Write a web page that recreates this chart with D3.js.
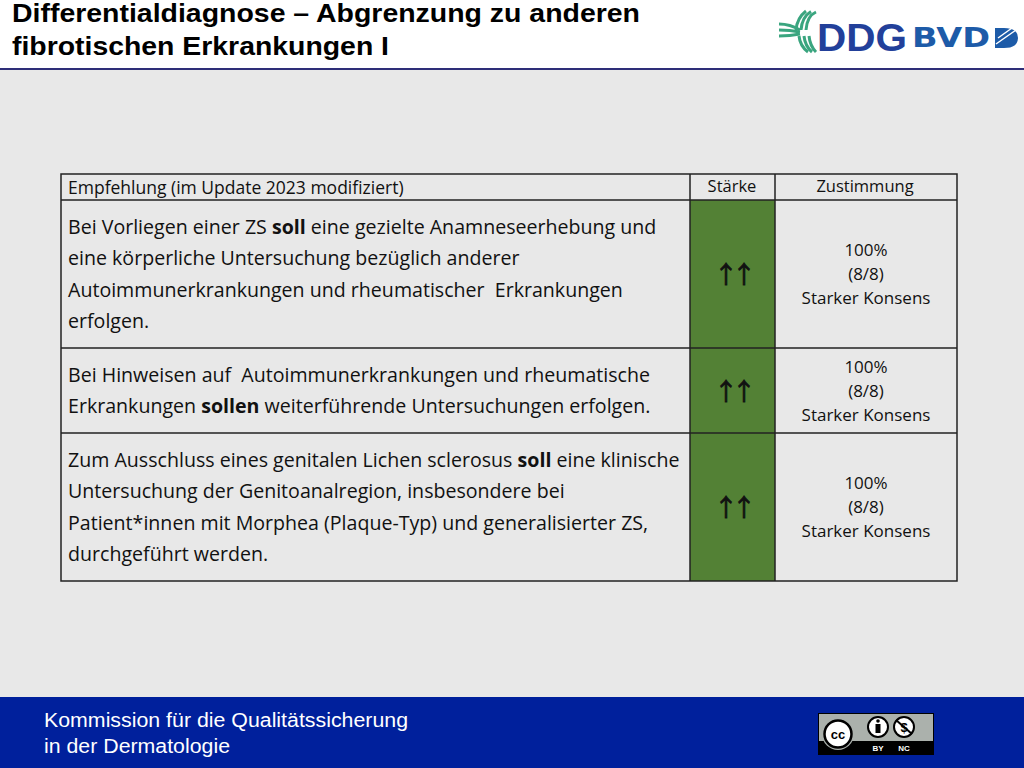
<!DOCTYPE html>
<html><head><meta charset="utf-8">
<script src="https://cdn.jsdelivr.net/npm/d3@7"></script>
<style>body{margin:0;background:#fff}svg{display:block}</style>
</head><body>
<svg id="c" width="1024" height="768"></svg>
<script>
const titleLines = ["Differentialdiagnose – Abgrenzung zu anderen", "fibrotischen Erkrankungen I"];
const columns = ["Empfehlung (im Update 2023 modifiziert)", "Stärke", "Zustimmung"];
// each recommendation: lines of [text, bold] segments
const recommendations = [
  [[["Bei Vorliegen einer ZS ",0],["soll",1],[" eine gezielte Anamneseerhebung und",0]],
   [["eine körperliche Untersuchung bezüglich anderer",0]],
   [["Autoimmunerkrankungen und rheumatischer  Erkrankungen",0]],
   [["erfolgen.",0]]],
  [[["Bei Hinweisen auf  Autoimmunerkrankungen und rheumatische",0]],
   [["Erkrankungen ",0],["sollen",1],[" weiterführende Untersuchungen erfolgen.",0]]],
  [[["Zum Ausschluss eines genitalen Lichen sclerosus ",0],["soll",1],[" eine klinische",0]],
   [["Untersuchung der Genitoanalregion, insbesondere bei",0]],
   [["Patient*innen mit Morphea (Plaque-Typ) und generalisierter ZS,",0]],
   [["durchgeführt werden.",0]]]
];
const strengths = ["↑↑", "↑↑", "↑↑"];
const agreementPct = ["100%", "100%", "100%"];
const agreementVotes = ["(8/8)", "(8/8)", "(8/8)"];
const agreementLabel = ["Starker Konsens", "Starker Konsens", "Starker Konsens"];
const footerLines = ["Kommission für die Qualitätssicherung", "in der Dermatologie"];

const svg = d3.select("#c");
// background
svg.append("rect").attr("x",0).attr("y",0).attr("width",1024).attr("height",768).attr("fill","#e8e8e8");
svg.append("rect").attr("x",0).attr("y",0).attr("width",1024).attr("height",68).attr("fill","#ffffff");
svg.append("rect").attr("x",0).attr("y",68).attr("width",1024).attr("height",2).attr("fill","#2e2e78");
svg.append("rect").attr("x",0).attr("y",697).attr("width",1024).attr("height",71).attr("fill","#00209c");

// title
const titleW = [628, 377];
svg.selectAll("text.title").data(titleLines).join("text").attr("class","title")
  .attr("x",12).attr("y",(d,i)=>22+i*33)
  .attr("font-family","Liberation Sans, Arial, sans-serif").attr("font-weight","bold")
  .attr("font-size",25).attr("fill","#000")
  .attr("textLength",(d,i)=>titleW[i]).attr("lengthAdjust","spacingAndGlyphs")
  .text(d=>d);

// logo DDG
const logo = svg.append("g").attr("fill","none").attr("stroke","#3aa57f").attr("stroke-width",3);
for (let k=0;k<3;k++){
  logo.append("path").attr("d",`M${796+k*5},${30} Q${797+k*5},${18-k*1} ${806+k*5},${11+k*0.5}`);
  logo.append("path").attr("d",`M${779},${24+k*6} Q${790},${24+k*6} ${800},${30+k*2}`);
  logo.append("path").attr("d",`M${799+k*5},${36} Q${800+k*5},${46} ${808+k*4},${52}`);
}
logo.append("text").attr("x",817).attr("y",51).attr("font-family","Liberation Sans, Arial").attr("font-weight","bold")
  .attr("font-size",38).attr("fill","#22409a").attr("stroke","none").attr("textLength",90).attr("lengthAdjust","spacingAndGlyphs").text("DDG");
logo.append("text").attr("x",912).attr("y",47).attr("font-family","DejaVu Sans, sans-serif").attr("font-weight","bold")
  .attr("font-size",26).attr("fill","#1d5ba8").attr("stroke","none").attr("textLength",78).attr("lengthAdjust","spacingAndGlyphs").text("BVD");
logo.append("path").attr("d","M995,28 L1004,28 Q1018,28 1018,38 Q1018,48 1004,48 L995,48 Z").attr("fill","#1d5ba8").attr("stroke","none");
logo.append("path").attr("d","M996,44 L1016,30 M998,38 L1012,28").attr("stroke","#fff").attr("stroke-width",1.5);

// table
const colEdges = [61, 690, 775, 957];
const rowEdges = [174, 200, 348, 433, 581];
const tableFont = "'Open Sans', Lato, sans-serif";
const tbl = svg.append("g");

tbl.selectAll("rect.green").data(recommendations).join("rect").attr("class","green")
  .attr("x",colEdges[1]).attr("y",(d,i)=>rowEdges[i+1]).attr("width",colEdges[2]-colEdges[1])
  .attr("height",(d,i)=>rowEdges[i+2]-rowEdges[i+1]).attr("fill","#538135");

tbl.append("rect").attr("x",colEdges[0]).attr("y",rowEdges[0]).attr("width",colEdges[3]-colEdges[0])
  .attr("height",rowEdges[4]-rowEdges[0]).attr("fill","none").attr("stroke","#222").attr("stroke-width",1.5);
tbl.selectAll("line.h").data(rowEdges.slice(1,-1)).join("line").attr("class","h")
  .attr("x1",colEdges[0]).attr("x2",colEdges[3]).attr("y1",d=>d).attr("y2",d=>d).attr("stroke","#222").attr("stroke-width",1.5);
tbl.selectAll("line.v").data(colEdges.slice(1,-1)).join("line").attr("class","v")
  .attr("x1",d=>d).attr("x2",d=>d).attr("y1",rowEdges[0]).attr("y2",rowEdges[4]).attr("stroke","#222").attr("stroke-width",1.5);

// header
const headerX = [68, 732, 865];
const headerAnchor = ["start","middle","middle"];
tbl.selectAll("text.hdr").data(columns).join("text").attr("class","hdr")
  .attr("x",(d,i)=>headerX[i]).attr("y",(d,i)=>i===0?194:192).attr("text-anchor",(d,i)=>headerAnchor[i])
  .attr("font-family",tableFont).attr("font-size",(d,i)=>i===0?17.5:16.5).attr("fill","#111").text(d=>d);

// recommendation text
const lineH = 31.6;
recommendations.forEach((lines, r) => {
  const top = rowEdges[r+1], bot = rowEdges[r+2];
  const mid = (top+bot)/2;
  const y0 = mid - (lines.length-1)/2*lineH;
  lines.forEach((segs, li) => {
    const t = tbl.append("text").attr("x",68).attr("y",y0+li*lineH+7)
      .attr("font-family",tableFont).attr("font-size",19.6).attr("fill","#111");
    t.selectAll("tspan").data(segs).join("tspan").attr("font-weight",d=>d[1]?"bold":"normal")
      .style("white-space","pre").text(d=>d[0]);
  });
  tbl.append("text").attr("x",732).attr("y",mid+9).attr("text-anchor","middle")
    .attr("font-family","'Noto Sans CJK SC', 'DejaVu Sans', sans-serif").attr("font-size",24).attr("letter-spacing",-6).attr("fill","#111")
    .attr("stroke","#111").attr("stroke-width",0.8)
    .text(strengths[r]);
  const ag = [agreementPct[r], agreementVotes[r], agreementLabel[r]];
  tbl.selectAll(null).data(ag).join("text").attr("x",866).attr("y",(d,i)=>mid-24+i*24+6)
    .attr("text-anchor","middle").attr("font-family",tableFont).attr("font-size",17).attr("fill","#111").text(d=>d);
});

// footer
const footW = [364, 186];
svg.selectAll("text.foot").data(footerLines).join("text").attr("class","foot")
  .attr("x",44).attr("y",(d,i)=>727+i*26).attr("font-family","Liberation Sans Narrow, Liberation Sans, Arial").attr("font-size",20)
  .attr("fill","#fff").attr("textLength",(d,i)=>footW[i]).attr("lengthAdjust","spacingAndGlyphs").text(d=>d);

// CC badge
const cc = svg.append("g");
cc.append("rect").attr("x",818).attr("y",713).attr("width",116).attr("height",42).attr("fill","#000");
cc.append("rect").attr("x",819).attr("y",714).attr("width",114).attr("height",27).attr("fill","#abb1ac");
cc.append("circle").attr("cx",838).attr("cy",734).attr("r",16).attr("fill","#abb1ac");
cc.append("circle").attr("cx",838).attr("cy",734).attr("r",13.5).attr("fill","#fff").attr("stroke","#000").attr("stroke-width",2.5);
cc.append("text").attr("x",838).attr("y",739).attr("text-anchor","middle").attr("font-family","Liberation Sans, Arial").attr("font-weight","bold").attr("font-size",13).text("cc");
cc.append("circle").attr("cx",878).attr("cy",727).attr("r",10).attr("fill","#fff").attr("stroke","#000").attr("stroke-width",2);
cc.append("circle").attr("cx",878).attr("cy",721).attr("r",1.8).attr("fill","#000");
cc.append("rect").attr("x",875.5).attr("y",724).attr("width",5).attr("height",9).attr("fill","#000");
cc.append("circle").attr("cx",904).attr("cy",727).attr("r",10).attr("fill","#fff").attr("stroke","#000").attr("stroke-width",2);
cc.append("text").attr("x",904).attr("y",732).attr("text-anchor","middle").attr("font-family","Liberation Sans").attr("font-weight","bold").attr("font-size",13).text("$");
cc.append("line").attr("x1",896).attr("y1",720).attr("x2",912).attr("y2",734).attr("stroke","#000").attr("stroke-width",2);
cc.append("text").attr("x",878).attr("y",751).attr("text-anchor","middle").attr("font-family","Liberation Sans").attr("font-weight","bold").attr("font-size",8).attr("fill","#fff").text("BY");
cc.append("text").attr("x",904).attr("y",751).attr("text-anchor","middle").attr("font-family","Liberation Sans").attr("font-weight","bold").attr("font-size",8).attr("fill","#fff").text("NC");
</script>
</body></html>
